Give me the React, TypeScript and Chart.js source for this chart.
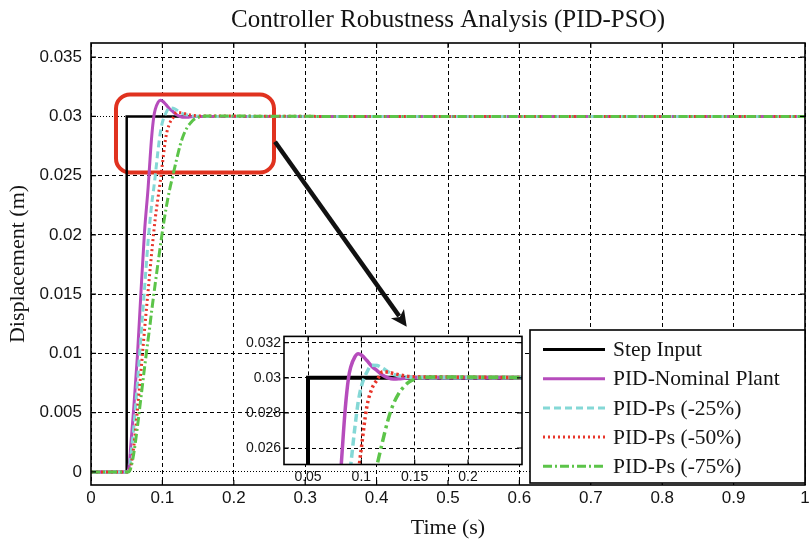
import React, { useEffect, useRef } from 'react';
import Chart from 'chart.js/auto';

const TITLE = 'Controller Robustness Analysis (PID-PSO)';
const X_LABEL = 'Time (s)';
const Y_LABEL = 'Displacement (m)';

const seriesLabels = ['Step Input', 'PID-Nominal Plant', 'PID-Ps (-25%)', 'PID-Ps (-50%)', 'PID-Ps (-75%)'];

const stepTime = [0, 0.05, 0.05, 1];
const stepValue = [0, 0, 0.03, 0.03];

const time = [0, 0.05, 0.053, 0.056, 0.06, 0.065, 0.07, 0.075, 0.08, 0.082, 0.085, 0.088, 0.09, 0.094, 0.097, 0.1, 0.105, 0.11, 0.115, 0.12, 0.125, 0.13, 0.135, 0.14, 0.145, 0.152, 0.16, 0.17, 0.18, 0.2, 0.25, 0.3, 0.4, 0.6, 0.8, 1.0];
const nominal = [0, 0, 0.0003, 0.0025, 0.0055, 0.0098, 0.0152, 0.0203, 0.024, 0.0258, 0.0283, 0.03, 0.0306, 0.0312, 0.03137, 0.0313, 0.031, 0.03065, 0.0304, 0.03015, 0.03, 0.02993, 0.02994, 0.02997, 0.03, 0.03, 0.03, 0.03, 0.03, 0.03, 0.03, 0.03, 0.03, 0.03, 0.03, 0.03];
const ps25 = [0, 0, 0.0001, 0.0015, 0.0038, 0.0075, 0.0115, 0.0155, 0.0195, 0.0208, 0.0226, 0.024, 0.025, 0.0272, 0.0286, 0.0295, 0.0303, 0.03072, 0.0307, 0.03055, 0.03035, 0.0302, 0.03012, 0.03006, 0.03003, 0.03002, 0.03001, 0.03, 0.03, 0.03, 0.03, 0.03, 0.03, 0.03, 0.03, 0.03];
const ps50 = [0, 0, 0, 0.0006, 0.0022, 0.0052, 0.0085, 0.012, 0.0153, 0.0166, 0.0185, 0.0203, 0.0214, 0.0232, 0.0245, 0.026, 0.0283, 0.0294, 0.0299, 0.03035, 0.03032, 0.03025, 0.03018, 0.03012, 0.03008, 0.03005, 0.03004, 0.03004, 0.03004, 0.03003, 0.03002, 0.03001, 0.03, 0.03, 0.03, 0.03];
const ps75 = [0, 0, 0, 0.0004, 0.0016, 0.0038, 0.0063, 0.0088, 0.0112, 0.0121, 0.0136, 0.015, 0.0159, 0.0177, 0.019, 0.0203, 0.0222, 0.0238, 0.0251, 0.0264, 0.0276, 0.0285, 0.0291, 0.0295, 0.02978, 0.02995, 0.03003, 0.03005, 0.03005, 0.03004, 0.03002, 0.03001, 0.03, 0.03, 0.03, 0.03];

const mainXTicks = [0, 0.1, 0.2, 0.3, 0.4, 0.5, 0.6, 0.7, 0.8, 0.9, 1];
const mainYTicks = [0, 0.005, 0.01, 0.015, 0.02, 0.025, 0.03, 0.035];
const insetXTicks = [0.05, 0.1, 0.15, 0.2];
const insetYTicks = [0.026, 0.028, 0.03, 0.032];

// annotation (data units of the main axes)
const zoomBoxX = [0.035, 0.2563];
const zoomBoxY = [0.02527, 0.03185];
const arrowX = [0.2577, 0.4422];
const arrowY = [0.02787, 0.01226];

const SERIF = '"Liberation Serif", "Times New Roman", serif';
const SANS = '"Liberation Sans", Arial, sans-serif';
const TEXT = '#141414';

const seriesColors = ['#000000', '#b64cbc', '#84d8d6', '#e8352a', '#5cc449'];

const fmt = (v: number) => String(Number(Number(v).toFixed(4)));
const pts = (xs: number[], ys: number[]) => xs.map((x, i) => ({ x, y: ys[i] }));

function makeDatasets(big: boolean) {
  const w = big ? 3.5 : 3;
  const dashes = big
    ? [[], [], [8, 4], [2.5, 3], [10, 4, 3, 4]]
    : [[], [], [7, 4], [2, 3], [9, 3, 2, 3]];
  const ys = [stepValue, nominal, ps25, ps50, ps75];
  return ys.map((arr, i) => ({
    label: seriesLabels[i],
    data: i === 0 ? pts(stepTime, stepValue) : pts(time, arr),
    borderColor: seriesColors[i],
    backgroundColor: seriesColors[i],
    borderWidth: i === 0 ? (big ? 4 : 2.5) : w,
    borderDash: dashes[i],
    pointRadius: 0,
    fill: false,
    cubicInterpolationMode: i === 0 ? 'default' : 'monotone',
    tension: 0,
    order: 5 - i,
  }));
}

const framePlugin = {
  id: 'frame',
  afterDraw(chart: any) {
    const { ctx, chartArea: a } = chart;
    const xs = chart.scales.x;
    const ys = chart.scales.y;
    const tl = 5;
    ctx.save();
    ctx.strokeStyle = '#000';
    ctx.lineWidth = 1.2;
    ctx.setLineDash([]);
    ctx.beginPath();
    xs.ticks.forEach((t: any) => {
      const p = xs.getPixelForValue(t.value);
      if (p <= a.left + 1 || p >= a.right - 1) return;
      ctx.moveTo(p, a.bottom); ctx.lineTo(p, a.bottom - tl);
      ctx.moveTo(p, a.top); ctx.lineTo(p, a.top + tl);
    });
    ys.ticks.forEach((t: any) => {
      const p = ys.getPixelForValue(t.value);
      if (p <= a.top + 1 || p >= a.bottom - 1) return;
      ctx.moveTo(a.left, p); ctx.lineTo(a.left + tl, p);
      ctx.moveTo(a.right, p); ctx.lineTo(a.right - tl, p);
    });
    ctx.stroke();
    ctx.lineWidth = 1.6;
    ctx.strokeRect(a.left, a.top, a.right - a.left, a.bottom - a.top);
    ctx.restore();
  },
};

const annotationPlugin = {
  id: 'zoomNote',
  beforeDatasetsDraw(chart: any) {
    const { ctx } = chart;
    const xs = chart.scales.x;
    const ys = chart.scales.y;
    const x0 = xs.getPixelForValue(zoomBoxX[0]);
    const x1 = xs.getPixelForValue(zoomBoxX[1]);
    const y0 = ys.getPixelForValue(zoomBoxY[1]);
    const y1 = ys.getPixelForValue(zoomBoxY[0]);
    const r = 14;
    ctx.save();
    ctx.strokeStyle = '#e0321f';
    ctx.lineWidth = 4;
    ctx.setLineDash([]);
    ctx.beginPath();
    ctx.moveTo(x0 + r, y0);
    ctx.lineTo(x1 - r, y0);
    ctx.arcTo(x1, y0, x1, y0 + r, r);
    ctx.lineTo(x1, y1 - r);
    ctx.arcTo(x1, y1, x1 - r, y1, r);
    ctx.lineTo(x0 + r, y1);
    ctx.arcTo(x0, y1, x0, y1 - r, r);
    ctx.lineTo(x0, y0 + r);
    ctx.arcTo(x0, y0, x0 + r, y0, r);
    ctx.closePath();
    ctx.stroke();

    const ax0 = xs.getPixelForValue(arrowX[0]);
    const ay0 = ys.getPixelForValue(arrowY[0]);
    const ax1 = xs.getPixelForValue(arrowX[1]);
    const ay1 = ys.getPixelForValue(arrowY[1]);
    const ang = Math.atan2(ay1 - ay0, ax1 - ax0);
    const hl = 16, hw = 8;
    const bx = ax1 - hl * Math.cos(ang);
    const by = ay1 - hl * Math.sin(ang);
    ctx.strokeStyle = '#111';
    ctx.fillStyle = '#111';
    ctx.lineWidth = 4.5;
    ctx.beginPath();
    ctx.moveTo(ax0, ay0);
    ctx.lineTo(bx + 3 * Math.cos(ang), by + 3 * Math.sin(ang));
    ctx.stroke();
    ctx.beginPath();
    ctx.moveTo(ax1, ay1);
    ctx.lineTo(bx + hw * Math.sin(ang), by - hw * Math.cos(ang));
    ctx.lineTo(bx + 4 * Math.cos(ang), by + 4 * Math.sin(ang));
    ctx.lineTo(bx - hw * Math.sin(ang), by + hw * Math.cos(ang));
    ctx.closePath();
    ctx.fill();
    ctx.restore();
  },
};

const legendPlugin = {
  id: 'boxLegend',
  afterDraw(chart: any) {
    const { ctx, chartArea: a } = chart;
    const w = 275, h = 153;
    const left = a.right - w;
    const top = a.bottom - h - 2;
    ctx.save();
    ctx.fillStyle = '#fff';
    ctx.fillRect(left, top, w, h);
    ctx.strokeStyle = '#000';
    ctx.lineWidth = 1.6;
    ctx.setLineDash([]);
    ctx.strokeRect(left, top, w, h);
    ctx.font = `21.5px ${SERIF}`;
    ctx.textBaseline = 'middle';
    ctx.textAlign = 'left';
    chart.data.datasets.forEach((ds: any, i: number) => {
      const y = top + 19.5 + i * 29.2;
      ctx.strokeStyle = ds.borderColor;
      ctx.lineWidth = 3;
      ctx.setLineDash(ds.borderDash || []);
      ctx.beginPath();
      ctx.moveTo(left + 13, y);
      ctx.lineTo(left + 75, y);
      ctx.stroke();
      ctx.fillStyle = TEXT;
      ctx.fillText(ds.label, left + 83, y + 1);
    });
    ctx.restore();
  },
};

const whiteAreaPlugin = {
  id: 'whiteArea',
  beforeDraw(chart: any) {
    const { ctx, chartArea: a } = chart;
    ctx.save();
    ctx.fillStyle = '#fff';
    ctx.fillRect(a.left, a.top, a.right - a.left, a.bottom - a.top);
    ctx.restore();
  },
};

export default function App() {
  const mainRef = useRef<HTMLCanvasElement>(null);
  const insetRef = useRef<HTMLCanvasElement>(null);

  useEffect(() => {
    const main = new Chart(mainRef.current!, {
      type: 'line',
      data: { datasets: makeDatasets(false) as any },
      plugins: [annotationPlugin, framePlugin, legendPlugin],
      options: {
        responsive: false,
        animation: false,
        devicePixelRatio: 1,
        layout: { padding: { left: 0, right: 5, top: 0, bottom: 0 } },
        plugins: {
          legend: { display: false },
          tooltip: { enabled: false },
          title: {
            display: true,
            fullSize: false,
            text: TITLE,
            color: TEXT,
            font: { family: SERIF, size: 25, weight: 'normal' },
            padding: { top: 5, bottom: 8 },
          },
        },
        scales: {
          x: {
            type: 'linear',
            min: 0,
            max: 1,
            afterBuildTicks: (s: any) => { s.ticks = mainXTicks.map((v) => ({ value: v })); },
            afterFit: (s: any) => { s.height = 58; s.paddingLeft = 0; s.paddingRight = 0; },
            ticks: { callback: (v: any) => fmt(v), color: TEXT, font: { family: SANS, size: 17 }, padding: 3, maxRotation: 0, autoSkip: false },
            grid: { color: '#000', lineWidth: 1, drawTicks: false },
            border: { display: false, dash: [4, 3] },
            title: { display: true, text: X_LABEL, color: TEXT, font: { family: SERIF, size: 22 }, padding: { top: 0, bottom: 2 } },
          },
          y: {
            type: 'linear',
            min: -0.0011,
            max: 0.0362,
            afterBuildTicks: (s: any) => { s.ticks = mainYTicks.map((v) => ({ value: v })); },
            afterFit: (s: any) => { s.width = 91; },
            ticks: { callback: (v: any) => fmt(v), color: TEXT, font: { family: SANS, size: 17 }, padding: 9, autoSkip: false },
            grid: { color: '#000', lineWidth: 1, drawTicks: false },
            border: {
              display: false,
              dash: (c: any) => {
                const v = c.tick ? c.tick.value : 1;
                return Math.abs(v) < 1e-9 || Math.abs(v - 0.03) < 1e-9 ? [1, 2] : [4, 3];
              },
            } as any,
            title: { display: true, text: Y_LABEL, color: TEXT, font: { family: SERIF, size: 22 }, padding: { top: 5, bottom: 0 } },
          },
        },
      } as any,
    });

    const inset = new Chart(insetRef.current!, {
      type: 'line',
      data: { datasets: makeDatasets(true) as any },
      plugins: [whiteAreaPlugin, framePlugin],
      options: {
        responsive: false,
        animation: false,
        devicePixelRatio: 1,
        layout: { padding: { left: 0, right: 8, top: 6.5, bottom: 0 } },
        plugins: { legend: { display: false }, tooltip: { enabled: false }, title: { display: false } },
        scales: {
          x: {
            type: 'linear',
            min: 0.0275,
            max: 0.2506,
            afterBuildTicks: (s: any) => { s.ticks = insetXTicks.map((v) => ({ value: v })); },
            afterFit: (s: any) => { s.height = 25.5; s.paddingLeft = 0; s.paddingRight = 0; },
            ticks: { callback: (v: any) => fmt(v), color: TEXT, font: { family: SANS, size: 14 }, padding: 4, maxRotation: 0, autoSkip: false },
            grid: { color: '#000', lineWidth: 1, drawTicks: false },
            border: { display: false, dash: [4, 3] },
          },
          y: {
            type: 'linear',
            min: 0.02506,
            max: 0.03236,
            afterBuildTicks: (s: any) => { s.ticks = insetYTicks.map((v) => ({ value: v })); },
            afterFit: (s: any) => { s.width = 54; },
            ticks: { callback: (v: any) => fmt(v), color: TEXT, font: { family: SANS, size: 14 }, padding: 3, autoSkip: false },
            grid: { color: '#000', lineWidth: 1, drawTicks: false },
            border: { display: false, dash: [4, 3] },
          },
        },
      } as any,
    });

    return () => { main.destroy(); inset.destroy(); };
  }, []);

  return (
    <div style={{ position: 'absolute', left: 0, top: 0, width: 810, height: 543, background: '#fff' }}>
      <canvas ref={mainRef} width={810} height={543} style={{ position: 'absolute', left: 0, top: 0, width: 810, height: 543 }} />
      <canvas ref={insetRef} width={300} height={165} style={{ position: 'absolute', left: 230, top: 325, width: 300, height: 165 }} />
    </div>
  );
}
